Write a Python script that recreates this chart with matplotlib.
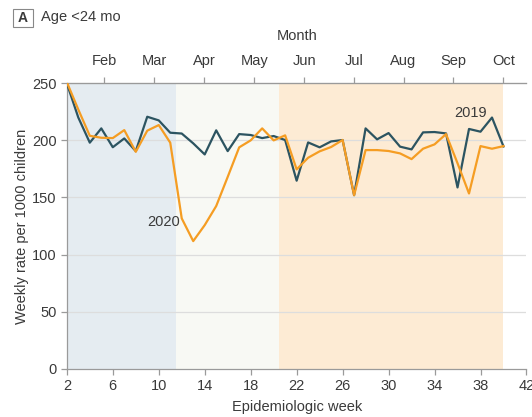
import numpy as np
import matplotlib.pyplot as plt
from matplotlib.patches import FancyBboxPatch

plt.rcParams["font.family"] = ["Liberation Sans Narrow", "Liberation Sans", "DejaVu Sans"]

# Epidemiologic weeks 2-40
weeks = np.arange(2, 41)

rate_2019 = [250, 220, 198, 210.5, 194, 201.7, 190.6, 220.7, 217.5, 206.7,
             206, 197.4, 187.7, 208.8, 190.6, 205.5, 204.7, 202, 203.8, 200.3,
             164.7, 198.2, 193.9, 199.1, 200.3, 152, 210.5, 200.9, 206.4, 194.5,
             192.1, 207, 207.3, 206.1, 158.8, 210, 207.6, 220, 194.7]

rate_2020 = [251, 227, 204, 202.3, 202, 209, 190, 208.5, 213.4, 198,
             131.7, 111.8, 125.8, 142.5, 168, 193.9, 200, 210.5, 200, 204.4,
             174.6, 184.8, 190.4, 194.2, 200.3, 152, 191.5, 191.5, 190.7, 188.6,
             183.6, 192.7, 196.5, 205.5, 180, 153.5, 195, 192.7, 195]

# shaded periods (start week, end week, colour)
periods = [(2, 11.5, "#e5ecf1"), (11.5, 20.5, "#f8f9f4"), (20.5, 40, "#fdebd4")]

month_names = ["Feb", "Mar", "Apr", "May", "Jun", "Jul", "Aug", "Sep", "Oct"]
month_pos = [5.25, 9.6, 13.95, 18.3, 22.65, 27.0, 31.3, 35.65, 40.0]

text_col = "#3a3a3a"
spine_col = "#9a9a9a"
col_2019 = "#2c5461"
col_2020 = "#f59d23"
fs = 10.5

fig = plt.figure(figsize=(5.32, 4.17), dpi=100)
ax = fig.add_axes([0.1256, 0.1156, 0.864, 0.6847])

for x0, x1, c in periods:
    ax.axvspan(x0, x1, ymin=0, ymax=1, color=c, lw=0, zorder=0)

for yv in [50, 100, 150, 200]:
    ax.axhline(yv, color="#dddddd", lw=0.9, zorder=1)

ax.plot(weeks, rate_2019, color=col_2019, lw=1.6, zorder=3)
ax.plot(weeks, rate_2020, color=col_2020, lw=1.6, zorder=4)

ax.text(37.1, 224, "2019", color=text_col, fontsize=fs, ha="center", va="center")
ax.text(10.45, 128.5, "2020", color=text_col, fontsize=fs, ha="center", va="center")

ax.set_xlim(2, 42)
ax.set_ylim(0, 250)
ax.set_xticks(np.arange(2, 43, 4))
ax.set_yticks([0, 50, 100, 150, 200, 250])
ax.tick_params(colors=spine_col, labelcolor=text_col, labelsize=fs, length=4, width=0.9)
ax.set_xlabel("Epidemiologic week", color=text_col, fontsize=fs, labelpad=5)
ax.set_ylabel("Weekly rate per 1000 children", color=text_col, fontsize=fs, labelpad=2)

for s in ["left", "bottom", "top"]:
    ax.spines[s].set_color(spine_col)
    ax.spines[s].set_linewidth(0.9)
ax.spines["right"].set_visible(False)

top = ax.secondary_xaxis("top")
top.set_xticks(month_pos)
top.set_xticklabels(month_names)
top.tick_params(colors=spine_col, labelcolor=text_col, labelsize=fs, length=4, width=0.9, pad=7)
top.spines["top"].set_color(spine_col)
top.set_xlabel("Month", color=text_col, fontsize=fs, labelpad=10)

# panel label
fig.patches.append(FancyBboxPatch((12.5 / 532, 1 - 27 / 417), 21 / 532, 18 / 417,
                                  boxstyle="square,pad=0", transform=fig.transFigure,
                                  fc="white", ec="#888888", lw=0.8))
fig.text(23 / 532, 1 - 17.5 / 417, "A", fontsize=10, weight="bold", color=text_col,
         ha="center", va="center")
fig.text(41 / 532, 1 - 17 / 417, "Age <24 mo", fontsize=fs, color=text_col,
         ha="left", va="center")

fig.savefig("out.png", dpi=100)
